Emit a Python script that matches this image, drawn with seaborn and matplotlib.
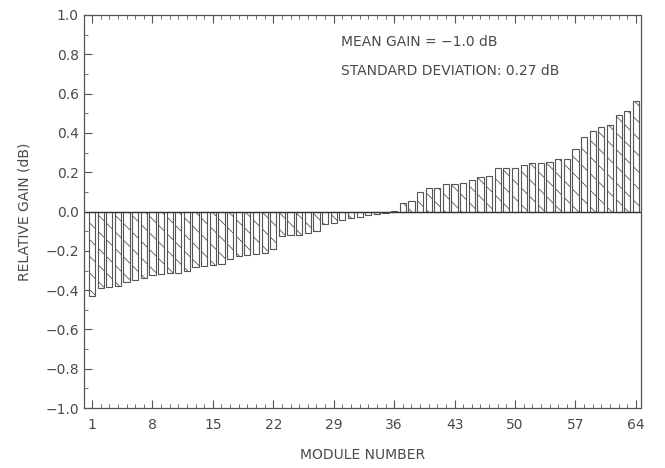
import numpy as np
import pandas as pd
import matplotlib
matplotlib.use("Agg")
import matplotlib.pyplot as plt
import seaborn as sns
from matplotlib.ticker import MultipleLocator, FixedLocator

modules = list(range(1, 65))
gains = [-0.43, -0.39, -0.385, -0.38, -0.36, -0.35, -0.34, -0.325, -0.32, -0.315,
         -0.315, -0.30, -0.28, -0.275, -0.27, -0.265, -0.24, -0.225, -0.22, -0.215,
         -0.21, -0.19, -0.125, -0.12, -0.12, -0.11, -0.10, -0.065, -0.06, -0.045,
         -0.035, -0.03, -0.02, -0.015, -0.005, 0.005, 0.045, 0.055, 0.10, 0.12,
         0.12, 0.14, 0.14, 0.145, 0.16, 0.175, 0.18, 0.22, 0.22, 0.22,
         0.235, 0.245, 0.245, 0.25, 0.265, 0.265, 0.32, 0.38, 0.41, 0.43,
         0.44, 0.49, 0.51, 0.56]
xtick_vals = [1, 8, 15, 22, 29, 36, 43, 50, 57, 64]
ytick_vals = [-1.0, -0.8, -0.6, -0.4, -0.2, 0.0, 0.2, 0.4, 0.6, 0.8, 1.0]
annotations = ["MEAN GAIN = \u22121.0 dB", "STANDARD DEVIATION: 0.27 dB"]

df = pd.DataFrame({"module": modules, "gain": gains})

sns.set_style("white")
plt.rcParams["font.family"] = ["DejaVu Sans"]
plt.rcParams["hatch.linewidth"] = 0.6
plt.rcParams["hatch.color"] = "#777777"

fig = plt.figure(figsize=(6.65, 4.68), dpi=100)
ax = fig.add_axes([0.126, 0.128, 0.838, 0.84])

sns.barplot(data=df, x="module", y="gain", native_scale=True, ax=ax,
            color="white", edgecolor="#555555", linewidth=0.8, width=0.72,
            errorbar=None)
for p in ax.patches:
    p.set_hatch("\\\\")

ax.axhline(0, color="#333333", lw=1.0)
ax.set_xlim(0.05, 64.6)
ax.set_ylim(-1.0, 1.0)

ax.xaxis.set_major_locator(FixedLocator(xtick_vals))
ax.xaxis.set_minor_locator(MultipleLocator(1))
ax.set_xticklabels([str(v) for v in xtick_vals])
ax.yaxis.set_major_locator(FixedLocator(ytick_vals))
ax.yaxis.set_minor_locator(MultipleLocator(0.1))
ax.set_yticklabels([f"{v:.1f}".replace("-", "\u2212") for v in ytick_vals])

ax.tick_params(axis="both", which="both", direction="in", colors="#555555",
               labelcolor="#4a4a4a", labelsize=10, top=True, bottom=True, left=True, right=False)
ax.tick_params(axis="both", which="major", length=6, width=0.8)
ax.tick_params(axis="both", which="minor", length=3, width=0.6)
ax.tick_params(axis="x", pad=7)

for s in ax.spines.values():
    s.set_color("#555555")
    s.set_linewidth(0.9)

ax.set_xlabel("MODULE NUMBER", fontsize=10, color="#4a4a4a", labelpad=12)
ax.set_ylabel("RELATIVE GAIN (dB)", fontsize=10, color="#4a4a4a", labelpad=10)

ax.text(0.462, 0.93, annotations[0], transform=ax.transAxes, fontsize=10, color="#4a4a4a", va="center")
ax.text(0.462, 0.857, annotations[1], transform=ax.transAxes, fontsize=10, color="#4a4a4a", va="center")

fig.savefig("out.png", dpi=100)
